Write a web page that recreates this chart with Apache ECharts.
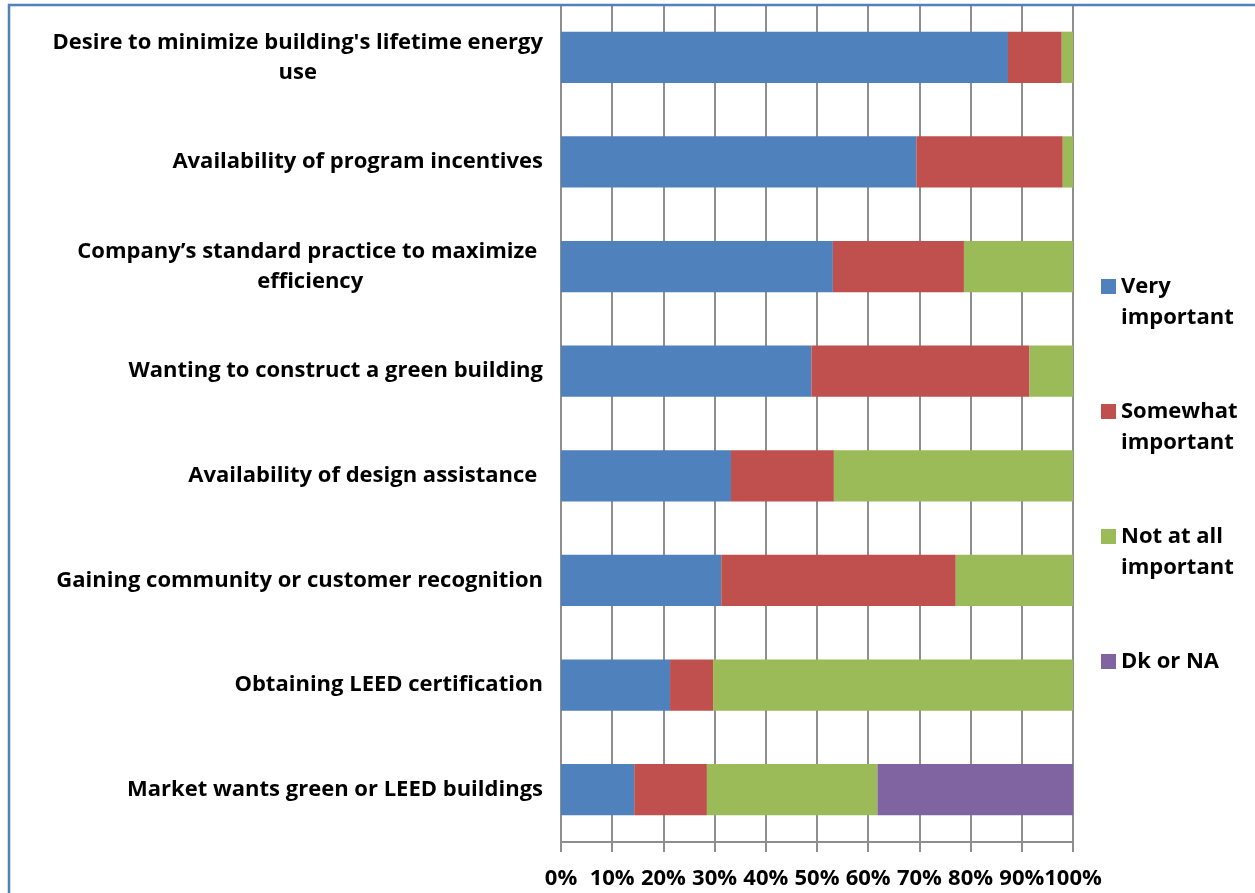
<!DOCTYPE html>
<html>
<head>
<meta charset="utf-8">
<script src="https://cdn.jsdelivr.net/npm/echarts@6/dist/echarts.min.js"></script>
<style>
  html, body { margin: 0; padding: 0; background: #fff; }
  #chart { width: 1255px; height: 893px; }
</style>
</head>
<body>
<div id="chart"></div>
<script>
// Reasons for pursuing energy efficiency, share of responses (%)
const categories = [
  "Desire to minimize building's lifetime energy\nuse",
  "Availability of program incentives",
  "Company\u2019s standard practice to maximize \nefficiency",
  "Wanting to construct a green building",
  "Availability of design assistance ",
  "Gaining community or customer recognition",
  "Obtaining LEED certification",
  "Market wants green or LEED buildings"
];
const veryImportant     = [87.3, 69.4, 53.1, 48.9, 33.2, 31.3, 21.3, 14.3];
const somewhatImportant = [10.5, 28.6, 25.6, 42.6, 20.1, 45.8,  8.4, 14.2];
const notAtAll          = [ 2.2,  2.0, 21.3,  8.5, 46.7, 22.9, 70.3, 33.3];
const dkOrNa            = [ 0,    0,    0,    0,    0,    0,    0,   38.2];
const seriesNames = ["Very important", "Somewhat important", "Not at all important", "Dk or NA"];
// Leading/trailing blank lines keep each swatch level with the first text line
const legendLabels = ["\nVery\nimportant", "\nSomewhat\nimportant", "\nNot at all\nimportant", "\nDk or NA\n"];
const xTicks = [0, 10, 20, 30, 40, 50, 60, 70, 80, 90, 100];

const colors = ["#4F81BD", "#C0504D", "#9BBB59", "#8064A2"];
const FONT = "'Open Sans', Lato, sans-serif";
const FONT_SIZE = 22;
const gridGray = "#8E8E8E";

const chart = echarts.init(document.getElementById("chart"), null, { renderer: "canvas" });

const seriesData = [veryImportant, somewhatImportant, notAtAll, dkOrNa];
const series = seriesData.map((vals, i) => ({
  name: seriesNames[i],
  type: "bar",
  stack: "total",
  barWidth: "49%",
  itemStyle: { color: colors[i] },
  emphasis: { disabled: true },
  data: vals
}));

chart.setOption({
  animation: false,
  color: colors,
  graphic: [{
    type: "rect",
    shape: { x: 9, y: 5, width: 1400, height: 1000 },
    style: { fill: "none", stroke: "#4F81BD", lineWidth: 2.5 },
    silent: true,
    z: 100
  }],
  grid: { left: 561, right: 182, top: 5, bottom: 51, containLabel: false },
  legend: {
    orient: "vertical",
    left: 1096,
    top: 235,
    itemWidth: 15,
    itemHeight: 15,
    itemGap: 32,
    icon: "rect",
    selectedMode: false,
    formatter: name => legendLabels[seriesNames.indexOf(name)],
    textStyle: {
      fontFamily: FONT, fontSize: FONT_SIZE, fontWeight: "bold",
      color: "#000", lineHeight: 31
    },
    data: seriesNames
  },
  xAxis: {
    type: "value",
    min: 0,
    max: 100,
    interval: 10,
    axisLine: { show: true, lineStyle: { color: gridGray, width: 2 } },
    axisTick: { show: true, length: 10, lineStyle: { color: gridGray, width: 2 } },
    splitLine: { show: true, lineStyle: { color: gridGray, width: 2 } },
    axisLabel: {
      margin: 26,
      formatter: v => xTicks.includes(v) ? v + "%" : "",
      fontFamily: FONT, fontSize: FONT_SIZE, fontWeight: "bold", color: "#000"
    }
  },
  yAxis: {
    type: "category",
    inverse: true,
    data: categories,
    axisLine: { show: true, lineStyle: { color: gridGray, width: 2 } },
    axisTick: { show: false },
    splitLine: { show: false },
    axisLabel: {
      margin: 18,
      formatter: v => v.split("\n").map(l => "{c|" + l + "}").join("\n"),
      rich: {
        c: {
          align: "center",
          fontFamily: FONT, fontSize: FONT_SIZE, fontWeight: "bold",
          color: "#000", lineHeight: 30
        }
      }
    }
  },
  series: series
});
</script>
</body>
</html>
